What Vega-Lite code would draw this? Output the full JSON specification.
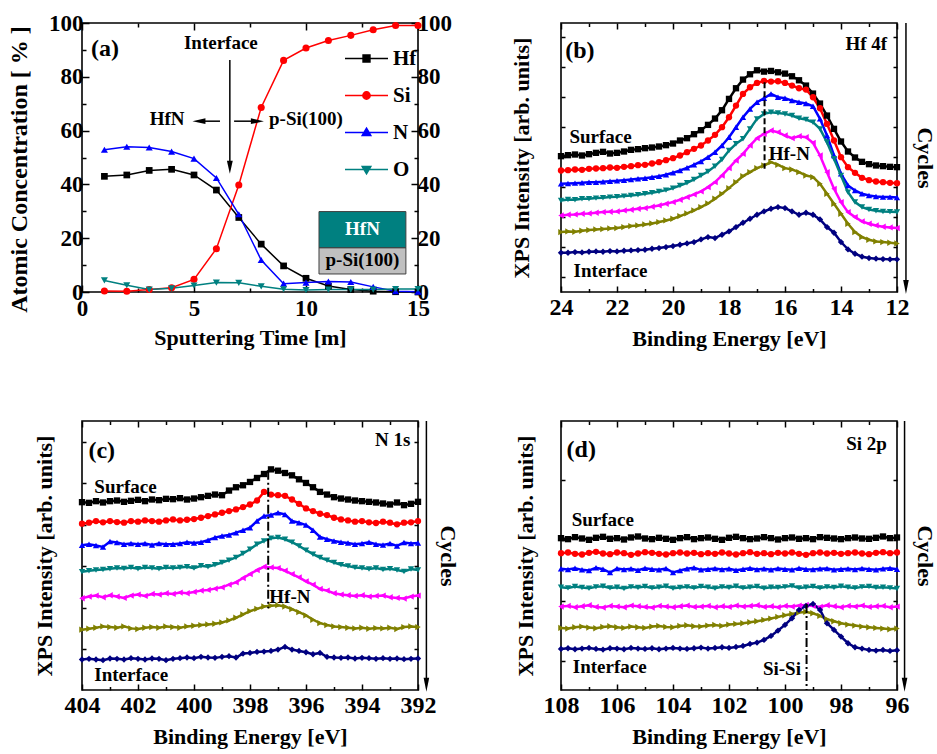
{
"$schema": "https://vega.github.io/schema/vega-lite/v6.json",
"padding": {"left": 6, "top": 11, "right": 0, "bottom": 5},
"background": "white",
"datasets": {
"conc": [
{"t":1,"el":"Hf","c":43.0},{"t":2,"el":"Hf","c":43.5},{"t":3,"el":"Hf","c":45.2},{"t":4,"el":"Hf","c":45.6},{"t":5,"el":"Hf","c":43.5},{"t":6,"el":"Hf","c":37.9},{"t":7,"el":"Hf","c":27.7},{"t":8,"el":"Hf","c":17.8},{"t":9,"el":"Hf","c":9.7},{"t":10,"el":"Hf","c":5.1},{"t":11,"el":"Hf","c":2.2},{"t":12,"el":"Hf","c":0.9},{"t":13,"el":"Hf","c":0.3},{"t":14,"el":"Hf","c":0.1},{"t":15,"el":"Hf","c":0.0},
{"t":1,"el":"Si","c":0.4},{"t":2,"el":"Si","c":0.3},{"t":3,"el":"Si","c":0.9},{"t":4,"el":"Si","c":1.6},{"t":5,"el":"Si","c":4.7},{"t":6,"el":"Si","c":16.1},{"t":7,"el":"Si","c":39.8},{"t":8,"el":"Si","c":68.6},{"t":9,"el":"Si","c":86.1},{"t":10,"el":"Si","c":90.7},{"t":11,"el":"Si","c":93.5},{"t":12,"el":"Si","c":95.4},{"t":13,"el":"Si","c":97.5},{"t":14,"el":"Si","c":99.1},{"t":15,"el":"Si","c":99.1},
{"t":1,"el":"N","c":52.9},{"t":2,"el":"N","c":54.0},{"t":3,"el":"N","c":53.7},{"t":4,"el":"N","c":52.2},{"t":5,"el":"N","c":49.6},{"t":6,"el":"N","c":42.4},{"t":7,"el":"N","c":28.9},{"t":8,"el":"N","c":11.9},{"t":9,"el":"N","c":3.1},{"t":10,"el":"N","c":3.5},{"t":11,"el":"N","c":3.9},{"t":12,"el":"N","c":3.7},{"t":13,"el":"N","c":1.9},{"t":14,"el":"N","c":0.3},{"t":15,"el":"N","c":0.1},
{"t":1,"el":"O","c":4.3},{"t":2,"el":"O","c":2.5},{"t":3,"el":"O","c":0.9},{"t":4,"el":"O","c":1.4},{"t":5,"el":"O","c":2.4},{"t":6,"el":"O","c":3.5},{"t":7,"el":"O","c":3.4},{"t":8,"el":"O","c":2.1},{"t":9,"el":"O","c":1.0},{"t":10,"el":"O","c":0.7},{"t":11,"el":"O","c":0.9},{"t":12,"el":"O","c":0.9},{"t":13,"el":"O","c":0.9},{"t":14,"el":"O","c":1.1},{"t":15,"el":"O","c":1.1}
],
"hf4f": [
{"c":1,"e":24,"v":408},{"c":1,"e":23.75,"v":411},{"c":1,"e":23.5,"v":413},{"c":1,"e":23.25,"v":410},{"c":1,"e":23,"v":414},{"c":1,"e":22.75,"v":418},{"c":1,"e":22.5,"v":421},{"c":1,"e":22.25,"v":416},{"c":1,"e":22,"v":418},{"c":1,"e":21.75,"v":422},{"c":1,"e":21.5,"v":427},{"c":1,"e":21.25,"v":429},{"c":1,"e":21,"v":432},{"c":1,"e":20.75,"v":434},{"c":1,"e":20.5,"v":437},{"c":1,"e":20.25,"v":441},{"c":1,"e":20,"v":446},{"c":1,"e":19.75,"v":455},{"c":1,"e":19.5,"v":462},{"c":1,"e":19.25,"v":474},{"c":1,"e":19,"v":486},{"c":1,"e":18.75,"v":502},{"c":1,"e":18.5,"v":521},{"c":1,"e":18.25,"v":546},{"c":1,"e":18,"v":580},{"c":1,"e":17.75,"v":612},{"c":1,"e":17.5,"v":638},{"c":1,"e":17.25,"v":654},{"c":1,"e":17,"v":666},{"c":1,"e":16.75,"v":662},{"c":1,"e":16.5,"v":664},{"c":1,"e":16.25,"v":660},{"c":1,"e":16,"v":656},{"c":1,"e":15.75,"v":648},{"c":1,"e":15.5,"v":636},{"c":1,"e":15.25,"v":620},{"c":1,"e":15,"v":596},{"c":1,"e":14.75,"v":566},{"c":1,"e":14.5,"v":530},{"c":1,"e":14.25,"v":490},{"c":1,"e":14,"v":452},{"c":1,"e":13.75,"v":422},{"c":1,"e":13.5,"v":404},{"c":1,"e":13.25,"v":391},{"c":1,"e":13,"v":384},{"c":1,"e":12.75,"v":380},{"c":1,"e":12.5,"v":378},{"c":1,"e":12.25,"v":376},{"c":1,"e":12,"v":375},
{"c":2,"e":24,"v":365},{"c":2,"e":23.75,"v":366},{"c":2,"e":23.5,"v":368},{"c":2,"e":23.25,"v":367},{"c":2,"e":23,"v":370},{"c":2,"e":22.75,"v":371},{"c":2,"e":22.5,"v":372},{"c":2,"e":22.25,"v":374},{"c":2,"e":22,"v":373},{"c":2,"e":21.75,"v":376},{"c":2,"e":21.5,"v":378},{"c":2,"e":21.25,"v":381},{"c":2,"e":21,"v":382},{"c":2,"e":20.75,"v":386},{"c":2,"e":20.5,"v":390},{"c":2,"e":20.25,"v":396},{"c":2,"e":20,"v":402},{"c":2,"e":19.75,"v":410},{"c":2,"e":19.5,"v":420},{"c":2,"e":19.25,"v":430},{"c":2,"e":19,"v":440},{"c":2,"e":18.75,"v":455},{"c":2,"e":18.5,"v":472},{"c":2,"e":18.25,"v":495},{"c":2,"e":18,"v":525},{"c":2,"e":17.75,"v":560},{"c":2,"e":17.5,"v":595},{"c":2,"e":17.25,"v":615},{"c":2,"e":17,"v":628},{"c":2,"e":16.75,"v":634},{"c":2,"e":16.5,"v":632},{"c":2,"e":16.25,"v":633},{"c":2,"e":16,"v":628},{"c":2,"e":15.75,"v":620},{"c":2,"e":15.5,"v":612},{"c":2,"e":15.25,"v":608},{"c":2,"e":15,"v":585},{"c":2,"e":14.75,"v":552},{"c":2,"e":14.5,"v":505},{"c":2,"e":14.25,"v":455},{"c":2,"e":14,"v":405},{"c":2,"e":13.75,"v":375},{"c":2,"e":13.5,"v":358},{"c":2,"e":13.25,"v":343},{"c":2,"e":13,"v":336},{"c":2,"e":12.75,"v":332},{"c":2,"e":12.5,"v":330},{"c":2,"e":12.25,"v":328},{"c":2,"e":12,"v":327},
{"c":3,"e":24,"v":325},{"c":3,"e":23.75,"v":326},{"c":3,"e":23.5,"v":327},{"c":3,"e":23.25,"v":328},{"c":3,"e":23,"v":330},{"c":3,"e":22.75,"v":330},{"c":3,"e":22.5,"v":331},{"c":3,"e":22.25,"v":333},{"c":3,"e":22,"v":334},{"c":3,"e":21.75,"v":336},{"c":3,"e":21.5,"v":338},{"c":3,"e":21.25,"v":340},{"c":3,"e":21,"v":342},{"c":3,"e":20.75,"v":345},{"c":3,"e":20.5,"v":348},{"c":3,"e":20.25,"v":352},{"c":3,"e":20,"v":358},{"c":3,"e":19.75,"v":365},{"c":3,"e":19.5,"v":373},{"c":3,"e":19.25,"v":382},{"c":3,"e":19,"v":392},{"c":3,"e":18.75,"v":405},{"c":3,"e":18.5,"v":420},{"c":3,"e":18.25,"v":440},{"c":3,"e":18,"v":465},{"c":3,"e":17.75,"v":495},{"c":3,"e":17.5,"v":525},{"c":3,"e":17.25,"v":550},{"c":3,"e":17,"v":570},{"c":3,"e":16.75,"v":582},{"c":3,"e":16.5,"v":595},{"c":3,"e":16.25,"v":585},{"c":3,"e":16,"v":582},{"c":3,"e":15.75,"v":575},{"c":3,"e":15.5,"v":570},{"c":3,"e":15.25,"v":566},{"c":3,"e":15,"v":558},{"c":3,"e":14.75,"v":520},{"c":3,"e":14.5,"v":470},{"c":3,"e":14.25,"v":410},{"c":3,"e":14,"v":355},{"c":3,"e":13.75,"v":320},{"c":3,"e":13.5,"v":305},{"c":3,"e":13.25,"v":295},{"c":3,"e":13,"v":290},{"c":3,"e":12.75,"v":287},{"c":3,"e":12.5,"v":285},{"c":3,"e":12.25,"v":285},{"c":3,"e":12,"v":284},
{"c":4,"e":24,"v":275},{"c":4,"e":23.75,"v":278},{"c":4,"e":23.5,"v":277},{"c":4,"e":23.25,"v":280},{"c":4,"e":23,"v":280},{"c":4,"e":22.75,"v":282},{"c":4,"e":22.5,"v":283},{"c":4,"e":22.25,"v":285},{"c":4,"e":22,"v":286},{"c":4,"e":21.75,"v":288},{"c":4,"e":21.5,"v":290},{"c":4,"e":21.25,"v":292},{"c":4,"e":21,"v":295},{"c":4,"e":20.75,"v":298},{"c":4,"e":20.5,"v":302},{"c":4,"e":20.25,"v":306},{"c":4,"e":20,"v":312},{"c":4,"e":19.75,"v":320},{"c":4,"e":19.5,"v":328},{"c":4,"e":19.25,"v":338},{"c":4,"e":19,"v":350},{"c":4,"e":18.75,"v":362},{"c":4,"e":18.5,"v":378},{"c":4,"e":18.25,"v":398},{"c":4,"e":18,"v":425},{"c":4,"e":17.75,"v":445},{"c":4,"e":17.5,"v":460},{"c":4,"e":17.25,"v":490},{"c":4,"e":17,"v":520},{"c":4,"e":16.75,"v":535},{"c":4,"e":16.5,"v":540},{"c":4,"e":16.25,"v":538},{"c":4,"e":16,"v":535},{"c":4,"e":15.75,"v":530},{"c":4,"e":15.5,"v":522},{"c":4,"e":15.25,"v":518},{"c":4,"e":15,"v":510},{"c":4,"e":14.75,"v":490},{"c":4,"e":14.5,"v":450},{"c":4,"e":14.25,"v":400},{"c":4,"e":14,"v":350},{"c":4,"e":13.75,"v":300},{"c":4,"e":13.5,"v":270},{"c":4,"e":13.25,"v":255},{"c":4,"e":13,"v":248},{"c":4,"e":12.75,"v":244},{"c":4,"e":12.5,"v":242},{"c":4,"e":12.25,"v":241},{"c":4,"e":12,"v":240},
{"c":5,"e":24,"v":230},{"c":5,"e":23.75,"v":232},{"c":5,"e":23.5,"v":233},{"c":5,"e":23.25,"v":235},{"c":5,"e":23,"v":236},{"c":5,"e":22.75,"v":238},{"c":5,"e":22.5,"v":240},{"c":5,"e":22.25,"v":241},{"c":5,"e":22,"v":242},{"c":5,"e":21.75,"v":245},{"c":5,"e":21.5,"v":247},{"c":5,"e":21.25,"v":250},{"c":5,"e":21,"v":252},{"c":5,"e":20.75,"v":256},{"c":5,"e":20.5,"v":260},{"c":5,"e":20.25,"v":265},{"c":5,"e":20,"v":270},{"c":5,"e":19.75,"v":277},{"c":5,"e":19.5,"v":285},{"c":5,"e":19.25,"v":293},{"c":5,"e":19,"v":302},{"c":5,"e":18.75,"v":315},{"c":5,"e":18.5,"v":330},{"c":5,"e":18.25,"v":350},{"c":5,"e":18,"v":372},{"c":5,"e":17.75,"v":395},{"c":5,"e":17.5,"v":415},{"c":5,"e":17.25,"v":440},{"c":5,"e":17,"v":462},{"c":5,"e":16.75,"v":475},{"c":5,"e":16.5,"v":485},{"c":5,"e":16.25,"v":480},{"c":5,"e":16,"v":470},{"c":5,"e":15.75,"v":462},{"c":5,"e":15.5,"v":468},{"c":5,"e":15.25,"v":465},{"c":5,"e":15,"v":448},{"c":5,"e":14.75,"v":410},{"c":5,"e":14.5,"v":360},{"c":5,"e":14.25,"v":310},{"c":5,"e":14,"v":270},{"c":5,"e":13.75,"v":240},{"c":5,"e":13.5,"v":225},{"c":5,"e":13.25,"v":212},{"c":5,"e":13,"v":205},{"c":5,"e":12.75,"v":200},{"c":5,"e":12.5,"v":196},{"c":5,"e":12.25,"v":194},{"c":5,"e":12,"v":192},
{"c":6,"e":24,"v":180},{"c":6,"e":23.75,"v":182},{"c":6,"e":23.5,"v":181},{"c":6,"e":23.25,"v":184},{"c":6,"e":23,"v":186},{"c":6,"e":22.75,"v":188},{"c":6,"e":22.5,"v":189},{"c":6,"e":22.25,"v":191},{"c":6,"e":22,"v":192},{"c":6,"e":21.75,"v":195},{"c":6,"e":21.5,"v":198},{"c":6,"e":21.25,"v":200},{"c":6,"e":21,"v":203},{"c":6,"e":20.75,"v":206},{"c":6,"e":20.5,"v":210},{"c":6,"e":20.25,"v":215},{"c":6,"e":20,"v":220},{"c":6,"e":19.75,"v":228},{"c":6,"e":19.5,"v":236},{"c":6,"e":19.25,"v":245},{"c":6,"e":19,"v":255},{"c":6,"e":18.75,"v":266},{"c":6,"e":18.5,"v":280},{"c":6,"e":18.25,"v":295},{"c":6,"e":18,"v":312},{"c":6,"e":17.75,"v":330},{"c":6,"e":17.5,"v":348},{"c":6,"e":17.25,"v":360},{"c":6,"e":17,"v":372},{"c":6,"e":16.75,"v":380},{"c":6,"e":16.5,"v":390},{"c":6,"e":16.25,"v":382},{"c":6,"e":16,"v":372},{"c":6,"e":15.75,"v":368},{"c":6,"e":15.5,"v":360},{"c":6,"e":15.25,"v":350},{"c":6,"e":15,"v":345},{"c":6,"e":14.75,"v":325},{"c":6,"e":14.5,"v":295},{"c":6,"e":14.25,"v":265},{"c":6,"e":14,"v":235},{"c":6,"e":13.75,"v":205},{"c":6,"e":13.5,"v":180},{"c":6,"e":13.25,"v":165},{"c":6,"e":13,"v":157},{"c":6,"e":12.75,"v":152},{"c":6,"e":12.5,"v":150},{"c":6,"e":12.25,"v":148},{"c":6,"e":12,"v":146},
{"c":7,"e":24,"v":118},{"c":7,"e":23.75,"v":118},{"c":7,"e":23.5,"v":120},{"c":7,"e":23.25,"v":119},{"c":7,"e":23,"v":121},{"c":7,"e":22.75,"v":122},{"c":7,"e":22.5,"v":121},{"c":7,"e":22.25,"v":123},{"c":7,"e":22,"v":122},{"c":7,"e":21.75,"v":124},{"c":7,"e":21.5,"v":125},{"c":7,"e":21.25,"v":126},{"c":7,"e":21,"v":127},{"c":7,"e":20.75,"v":130},{"c":7,"e":20.5,"v":132},{"c":7,"e":20.25,"v":135},{"c":7,"e":20,"v":138},{"c":7,"e":19.75,"v":142},{"c":7,"e":19.5,"v":146},{"c":7,"e":19.25,"v":150},{"c":7,"e":19,"v":158},{"c":7,"e":18.75,"v":165},{"c":7,"e":18.5,"v":162},{"c":7,"e":18.25,"v":172},{"c":7,"e":18,"v":182},{"c":7,"e":17.75,"v":195},{"c":7,"e":17.5,"v":208},{"c":7,"e":17.25,"v":220},{"c":7,"e":17,"v":232},{"c":7,"e":16.75,"v":242},{"c":7,"e":16.5,"v":250},{"c":7,"e":16.25,"v":255},{"c":7,"e":16,"v":252},{"c":7,"e":15.75,"v":242},{"c":7,"e":15.5,"v":232},{"c":7,"e":15.25,"v":238},{"c":7,"e":15,"v":232},{"c":7,"e":14.75,"v":218},{"c":7,"e":14.5,"v":195},{"c":7,"e":14.25,"v":178},{"c":7,"e":14,"v":150},{"c":7,"e":13.75,"v":128},{"c":7,"e":13.5,"v":115},{"c":7,"e":13.25,"v":106},{"c":7,"e":13,"v":102},{"c":7,"e":12.75,"v":100},{"c":7,"e":12.5,"v":99},{"c":7,"e":12.25,"v":98},{"c":7,"e":12,"v":98}
],
"n1s": [
{"c":1,"e":404,"v":567},{"c":1,"e":403.75,"v":565},{"c":1,"e":403.5,"v":570},{"c":1,"e":403.25,"v":566},{"c":1,"e":403,"v":570},{"c":1,"e":402.75,"v":572},{"c":1,"e":402.5,"v":568},{"c":1,"e":402.25,"v":571},{"c":1,"e":402,"v":574},{"c":1,"e":401.75,"v":570},{"c":1,"e":401.5,"v":575},{"c":1,"e":401.25,"v":573},{"c":1,"e":401,"v":577},{"c":1,"e":400.75,"v":576},{"c":1,"e":400.5,"v":579},{"c":1,"e":400.25,"v":575},{"c":1,"e":400,"v":578},{"c":1,"e":399.75,"v":582},{"c":1,"e":399.5,"v":586},{"c":1,"e":399.25,"v":590},{"c":1,"e":399,"v":588},{"c":1,"e":398.75,"v":602},{"c":1,"e":398.5,"v":612},{"c":1,"e":398.25,"v":618},{"c":1,"e":398,"v":628},{"c":1,"e":397.75,"v":640},{"c":1,"e":397.5,"v":652},{"c":1,"e":397.25,"v":666},{"c":1,"e":397,"v":662},{"c":1,"e":396.75,"v":655},{"c":1,"e":396.5,"v":648},{"c":1,"e":396.25,"v":636},{"c":1,"e":396,"v":625},{"c":1,"e":395.75,"v":612},{"c":1,"e":395.5,"v":598},{"c":1,"e":395.25,"v":590},{"c":1,"e":395,"v":582},{"c":1,"e":394.75,"v":578},{"c":1,"e":394.5,"v":575},{"c":1,"e":394.25,"v":572},{"c":1,"e":394,"v":570},{"c":1,"e":393.75,"v":568},{"c":1,"e":393.5,"v":566},{"c":1,"e":393.25,"v":563},{"c":1,"e":393,"v":560},{"c":1,"e":392.75,"v":566},{"c":1,"e":392.5,"v":558},{"c":1,"e":392.25,"v":562},{"c":1,"e":392,"v":568},
{"c":2,"e":404,"v":502},{"c":2,"e":403.75,"v":505},{"c":2,"e":403.5,"v":510},{"c":2,"e":403.25,"v":506},{"c":2,"e":403,"v":510},{"c":2,"e":402.75,"v":507},{"c":2,"e":402.5,"v":505},{"c":2,"e":402.25,"v":510},{"c":2,"e":402,"v":508},{"c":2,"e":401.75,"v":512},{"c":2,"e":401.5,"v":510},{"c":2,"e":401.25,"v":508},{"c":2,"e":401,"v":512},{"c":2,"e":400.75,"v":515},{"c":2,"e":400.5,"v":512},{"c":2,"e":400.25,"v":514},{"c":2,"e":400,"v":516},{"c":2,"e":399.75,"v":520},{"c":2,"e":399.5,"v":525},{"c":2,"e":399.25,"v":530},{"c":2,"e":399,"v":535},{"c":2,"e":398.75,"v":540},{"c":2,"e":398.5,"v":545},{"c":2,"e":398.25,"v":552},{"c":2,"e":398,"v":560},{"c":2,"e":397.75,"v":572},{"c":2,"e":397.5,"v":598},{"c":2,"e":397.25,"v":590},{"c":2,"e":397,"v":588},{"c":2,"e":396.75,"v":586},{"c":2,"e":396.5,"v":575},{"c":2,"e":396.25,"v":562},{"c":2,"e":396,"v":548},{"c":2,"e":395.75,"v":540},{"c":2,"e":395.5,"v":532},{"c":2,"e":395.25,"v":528},{"c":2,"e":395,"v":520},{"c":2,"e":394.75,"v":515},{"c":2,"e":394.5,"v":512},{"c":2,"e":394.25,"v":508},{"c":2,"e":394,"v":510},{"c":2,"e":393.75,"v":506},{"c":2,"e":393.5,"v":504},{"c":2,"e":393.25,"v":508},{"c":2,"e":393,"v":505},{"c":2,"e":392.75,"v":500},{"c":2,"e":392.5,"v":505},{"c":2,"e":392.25,"v":506},{"c":2,"e":392,"v":510},
{"c":3,"e":404,"v":437},{"c":3,"e":403.75,"v":440},{"c":3,"e":403.5,"v":436},{"c":3,"e":403.25,"v":432},{"c":3,"e":403,"v":448},{"c":3,"e":402.75,"v":445},{"c":3,"e":402.5,"v":440},{"c":3,"e":402.25,"v":442},{"c":3,"e":402,"v":440},{"c":3,"e":401.75,"v":442},{"c":3,"e":401.5,"v":438},{"c":3,"e":401.25,"v":442},{"c":3,"e":401,"v":440},{"c":3,"e":400.75,"v":440},{"c":3,"e":400.5,"v":442},{"c":3,"e":400.25,"v":446},{"c":3,"e":400,"v":444},{"c":3,"e":399.75,"v":446},{"c":3,"e":399.5,"v":452},{"c":3,"e":399.25,"v":460},{"c":3,"e":399,"v":465},{"c":3,"e":398.75,"v":468},{"c":3,"e":398.5,"v":475},{"c":3,"e":398.25,"v":482},{"c":3,"e":398,"v":490},{"c":3,"e":397.75,"v":510},{"c":3,"e":397.5,"v":525},{"c":3,"e":397.25,"v":528},{"c":3,"e":397,"v":535},{"c":3,"e":396.75,"v":530},{"c":3,"e":396.5,"v":510},{"c":3,"e":396.25,"v":505},{"c":3,"e":396,"v":498},{"c":3,"e":395.75,"v":482},{"c":3,"e":395.5,"v":462},{"c":3,"e":395.25,"v":455},{"c":3,"e":395,"v":450},{"c":3,"e":394.75,"v":446},{"c":3,"e":394.5,"v":444},{"c":3,"e":394.25,"v":440},{"c":3,"e":394,"v":442},{"c":3,"e":393.75,"v":446},{"c":3,"e":393.5,"v":440},{"c":3,"e":393.25,"v":438},{"c":3,"e":393,"v":442},{"c":3,"e":392.75,"v":435},{"c":3,"e":392.5,"v":445},{"c":3,"e":392.25,"v":442},{"c":3,"e":392,"v":444},
{"c":4,"e":404,"v":357},{"c":4,"e":403.75,"v":360},{"c":4,"e":403.5,"v":362},{"c":4,"e":403.25,"v":364},{"c":4,"e":403,"v":366},{"c":4,"e":402.75,"v":368},{"c":4,"e":402.5,"v":367},{"c":4,"e":402.25,"v":370},{"c":4,"e":402,"v":366},{"c":4,"e":401.75,"v":370},{"c":4,"e":401.5,"v":368},{"c":4,"e":401.25,"v":366},{"c":4,"e":401,"v":370},{"c":4,"e":400.75,"v":368},{"c":4,"e":400.5,"v":370},{"c":4,"e":400.25,"v":372},{"c":4,"e":400,"v":368},{"c":4,"e":399.75,"v":375},{"c":4,"e":399.5,"v":372},{"c":4,"e":399.25,"v":378},{"c":4,"e":399,"v":385},{"c":4,"e":398.75,"v":392},{"c":4,"e":398.5,"v":400},{"c":4,"e":398.25,"v":412},{"c":4,"e":398,"v":425},{"c":4,"e":397.75,"v":440},{"c":4,"e":397.5,"v":450},{"c":4,"e":397.25,"v":458},{"c":4,"e":397,"v":460},{"c":4,"e":396.75,"v":455},{"c":4,"e":396.5,"v":446},{"c":4,"e":396.25,"v":435},{"c":4,"e":396,"v":422},{"c":4,"e":395.75,"v":410},{"c":4,"e":395.5,"v":400},{"c":4,"e":395.25,"v":392},{"c":4,"e":395,"v":385},{"c":4,"e":394.75,"v":378},{"c":4,"e":394.5,"v":374},{"c":4,"e":394.25,"v":370},{"c":4,"e":394,"v":368},{"c":4,"e":393.75,"v":365},{"c":4,"e":393.5,"v":368},{"c":4,"e":393.25,"v":364},{"c":4,"e":393,"v":366},{"c":4,"e":392.75,"v":362},{"c":4,"e":392.5,"v":358},{"c":4,"e":392.25,"v":365},{"c":4,"e":392,"v":362},
{"c":5,"e":404,"v":277},{"c":5,"e":403.75,"v":282},{"c":5,"e":403.5,"v":285},{"c":5,"e":403.25,"v":280},{"c":5,"e":403,"v":286},{"c":5,"e":402.75,"v":282},{"c":5,"e":402.5,"v":278},{"c":5,"e":402.25,"v":285},{"c":5,"e":402,"v":288},{"c":5,"e":401.75,"v":284},{"c":5,"e":401.5,"v":290},{"c":5,"e":401.25,"v":288},{"c":5,"e":401,"v":292},{"c":5,"e":400.75,"v":290},{"c":5,"e":400.5,"v":294},{"c":5,"e":400.25,"v":292},{"c":5,"e":400,"v":296},{"c":5,"e":399.75,"v":300},{"c":5,"e":399.5,"v":302},{"c":5,"e":399.25,"v":306},{"c":5,"e":399,"v":310},{"c":5,"e":398.75,"v":318},{"c":5,"e":398.5,"v":325},{"c":5,"e":398.25,"v":338},{"c":5,"e":398,"v":350},{"c":5,"e":397.75,"v":362},{"c":5,"e":397.5,"v":372},{"c":5,"e":397.25,"v":370},{"c":5,"e":397,"v":368},{"c":5,"e":396.75,"v":360},{"c":5,"e":396.5,"v":350},{"c":5,"e":396.25,"v":340},{"c":5,"e":396,"v":328},{"c":5,"e":395.75,"v":318},{"c":5,"e":395.5,"v":305},{"c":5,"e":395.25,"v":300},{"c":5,"e":395,"v":292},{"c":5,"e":394.75,"v":288},{"c":5,"e":394.5,"v":286},{"c":5,"e":394.25,"v":284},{"c":5,"e":394,"v":286},{"c":5,"e":393.75,"v":282},{"c":5,"e":393.5,"v":284},{"c":5,"e":393.25,"v":285},{"c":5,"e":393,"v":280},{"c":5,"e":392.75,"v":278},{"c":5,"e":392.5,"v":276},{"c":5,"e":392.25,"v":282},{"c":5,"e":392,"v":285},
{"c":6,"e":404,"v":182},{"c":6,"e":403.75,"v":185},{"c":6,"e":403.5,"v":188},{"c":6,"e":403.25,"v":192},{"c":6,"e":403,"v":190},{"c":6,"e":402.75,"v":188},{"c":6,"e":402.5,"v":192},{"c":6,"e":402.25,"v":186},{"c":6,"e":402,"v":184},{"c":6,"e":401.75,"v":188},{"c":6,"e":401.5,"v":190},{"c":6,"e":401.25,"v":188},{"c":6,"e":401,"v":192},{"c":6,"e":400.75,"v":190},{"c":6,"e":400.5,"v":188},{"c":6,"e":400.25,"v":192},{"c":6,"e":400,"v":194},{"c":6,"e":399.75,"v":196},{"c":6,"e":399.5,"v":198},{"c":6,"e":399.25,"v":200},{"c":6,"e":399,"v":204},{"c":6,"e":398.75,"v":210},{"c":6,"e":398.5,"v":218},{"c":6,"e":398.25,"v":228},{"c":6,"e":398,"v":238},{"c":6,"e":397.75,"v":245},{"c":6,"e":397.5,"v":252},{"c":6,"e":397.25,"v":254},{"c":6,"e":397,"v":256},{"c":6,"e":396.75,"v":252},{"c":6,"e":396.5,"v":244},{"c":6,"e":396.25,"v":235},{"c":6,"e":396,"v":225},{"c":6,"e":395.75,"v":212},{"c":6,"e":395.5,"v":202},{"c":6,"e":395.25,"v":196},{"c":6,"e":395,"v":192},{"c":6,"e":394.75,"v":190},{"c":6,"e":394.5,"v":188},{"c":6,"e":394.25,"v":186},{"c":6,"e":394,"v":188},{"c":6,"e":393.75,"v":185},{"c":6,"e":393.5,"v":187},{"c":6,"e":393.25,"v":186},{"c":6,"e":393,"v":188},{"c":6,"e":392.75,"v":184},{"c":6,"e":392.5,"v":190},{"c":6,"e":392.25,"v":192},{"c":6,"e":392,"v":190},
{"c":7,"e":404,"v":92},{"c":7,"e":403.75,"v":94},{"c":7,"e":403.5,"v":92},{"c":7,"e":403.25,"v":90},{"c":7,"e":403,"v":95},{"c":7,"e":402.75,"v":94},{"c":7,"e":402.5,"v":92},{"c":7,"e":402.25,"v":96},{"c":7,"e":402,"v":94},{"c":7,"e":401.75,"v":92},{"c":7,"e":401.5,"v":95},{"c":7,"e":401.25,"v":94},{"c":7,"e":401,"v":90},{"c":7,"e":400.75,"v":94},{"c":7,"e":400.5,"v":96},{"c":7,"e":400.25,"v":98},{"c":7,"e":400,"v":96},{"c":7,"e":399.75,"v":100},{"c":7,"e":399.5,"v":98},{"c":7,"e":399.25,"v":97},{"c":7,"e":399,"v":100},{"c":7,"e":398.75,"v":102},{"c":7,"e":398.5,"v":98},{"c":7,"e":398.25,"v":110},{"c":7,"e":398,"v":112},{"c":7,"e":397.75,"v":115},{"c":7,"e":397.5,"v":116},{"c":7,"e":397.25,"v":118},{"c":7,"e":397,"v":122},{"c":7,"e":396.75,"v":130},{"c":7,"e":396.5,"v":122},{"c":7,"e":396.25,"v":118},{"c":7,"e":396,"v":114},{"c":7,"e":395.75,"v":108},{"c":7,"e":395.5,"v":112},{"c":7,"e":395.25,"v":100},{"c":7,"e":395,"v":98},{"c":7,"e":394.75,"v":97},{"c":7,"e":394.5,"v":98},{"c":7,"e":394.25,"v":95},{"c":7,"e":394,"v":97},{"c":7,"e":393.75,"v":96},{"c":7,"e":393.5,"v":94},{"c":7,"e":393.25,"v":96},{"c":7,"e":393,"v":94},{"c":7,"e":392.75,"v":95},{"c":7,"e":392.5,"v":93},{"c":7,"e":392.25,"v":94},{"c":7,"e":392,"v":95}
],
"si2p": [
{"c":1,"e":108,"v":455},{"c":1,"e":107.75,"v":452},{"c":1,"e":107.5,"v":458},{"c":1,"e":107.25,"v":454},{"c":1,"e":107,"v":450},{"c":1,"e":106.75,"v":456},{"c":1,"e":106.5,"v":459},{"c":1,"e":106.25,"v":453},{"c":1,"e":106,"v":455},{"c":1,"e":105.75,"v":451},{"c":1,"e":105.5,"v":457},{"c":1,"e":105.25,"v":460},{"c":1,"e":105,"v":454},{"c":1,"e":104.75,"v":452},{"c":1,"e":104.5,"v":456},{"c":1,"e":104.25,"v":453},{"c":1,"e":104,"v":450},{"c":1,"e":103.75,"v":455},{"c":1,"e":103.5,"v":458},{"c":1,"e":103.25,"v":452},{"c":1,"e":103,"v":455},{"c":1,"e":102.75,"v":457},{"c":1,"e":102.5,"v":453},{"c":1,"e":102.25,"v":450},{"c":1,"e":102,"v":456},{"c":1,"e":101.75,"v":459},{"c":1,"e":101.5,"v":455},{"c":1,"e":101.25,"v":452},{"c":1,"e":101,"v":454},{"c":1,"e":100.75,"v":458},{"c":1,"e":100.5,"v":455},{"c":1,"e":100.25,"v":451},{"c":1,"e":100,"v":455},{"c":1,"e":99.75,"v":457},{"c":1,"e":99.5,"v":453},{"c":1,"e":99.25,"v":455},{"c":1,"e":99,"v":452},{"c":1,"e":98.75,"v":458},{"c":1,"e":98.5,"v":456},{"c":1,"e":98.25,"v":454},{"c":1,"e":98,"v":452},{"c":1,"e":97.75,"v":455},{"c":1,"e":97.5,"v":457},{"c":1,"e":97.25,"v":454},{"c":1,"e":97,"v":453},{"c":1,"e":96.75,"v":456},{"c":1,"e":96.5,"v":460},{"c":1,"e":96.25,"v":455},{"c":1,"e":96,"v":457},
{"c":2,"e":108,"v":410},{"c":2,"e":107.75,"v":412},{"c":2,"e":107.5,"v":408},{"c":2,"e":107.25,"v":406},{"c":2,"e":107,"v":411},{"c":2,"e":106.75,"v":414},{"c":2,"e":106.5,"v":409},{"c":2,"e":106.25,"v":407},{"c":2,"e":106,"v":412},{"c":2,"e":105.75,"v":410},{"c":2,"e":105.5,"v":405},{"c":2,"e":105.25,"v":409},{"c":2,"e":105,"v":413},{"c":2,"e":104.75,"v":411},{"c":2,"e":104.5,"v":408},{"c":2,"e":104.25,"v":406},{"c":2,"e":104,"v":410},{"c":2,"e":103.75,"v":412},{"c":2,"e":103.5,"v":409},{"c":2,"e":103.25,"v":411},{"c":2,"e":103,"v":407},{"c":2,"e":102.75,"v":410},{"c":2,"e":102.5,"v":408},{"c":2,"e":102.25,"v":412},{"c":2,"e":102,"v":409},{"c":2,"e":101.75,"v":406},{"c":2,"e":101.5,"v":410},{"c":2,"e":101.25,"v":413},{"c":2,"e":101,"v":408},{"c":2,"e":100.75,"v":410},{"c":2,"e":100.5,"v":407},{"c":2,"e":100.25,"v":411},{"c":2,"e":100,"v":409},{"c":2,"e":99.75,"v":412},{"c":2,"e":99.5,"v":408},{"c":2,"e":99.25,"v":405},{"c":2,"e":99,"v":410},{"c":2,"e":98.75,"v":412},{"c":2,"e":98.5,"v":409},{"c":2,"e":98.25,"v":411},{"c":2,"e":98,"v":408},{"c":2,"e":97.75,"v":410},{"c":2,"e":97.5,"v":412},{"c":2,"e":97.25,"v":409},{"c":2,"e":97,"v":407},{"c":2,"e":96.75,"v":411},{"c":2,"e":96.5,"v":413},{"c":2,"e":96.25,"v":410},{"c":2,"e":96,"v":412},
{"c":3,"e":108,"v":363},{"c":3,"e":107.75,"v":361},{"c":3,"e":107.5,"v":365},{"c":3,"e":107.25,"v":360},{"c":3,"e":107,"v":358},{"c":3,"e":106.75,"v":366},{"c":3,"e":106.5,"v":362},{"c":3,"e":106.25,"v":352},{"c":3,"e":106,"v":364},{"c":3,"e":105.75,"v":361},{"c":3,"e":105.5,"v":363},{"c":3,"e":105.25,"v":359},{"c":3,"e":105,"v":365},{"c":3,"e":104.75,"v":362},{"c":3,"e":104.5,"v":360},{"c":3,"e":104.25,"v":364},{"c":3,"e":104,"v":352},{"c":3,"e":103.75,"v":358},{"c":3,"e":103.5,"v":363},{"c":3,"e":103.25,"v":366},{"c":3,"e":103,"v":360},{"c":3,"e":102.75,"v":362},{"c":3,"e":102.5,"v":364},{"c":3,"e":102.25,"v":361},{"c":3,"e":102,"v":363},{"c":3,"e":101.75,"v":359},{"c":3,"e":101.5,"v":362},{"c":3,"e":101.25,"v":365},{"c":3,"e":101,"v":361},{"c":3,"e":100.75,"v":363},{"c":3,"e":100.5,"v":360},{"c":3,"e":100.25,"v":364},{"c":3,"e":100,"v":362},{"c":3,"e":99.75,"v":360},{"c":3,"e":99.5,"v":365},{"c":3,"e":99.25,"v":362},{"c":3,"e":99,"v":361},{"c":3,"e":98.75,"v":363},{"c":3,"e":98.5,"v":364},{"c":3,"e":98.25,"v":360},{"c":3,"e":98,"v":362},{"c":3,"e":97.75,"v":363},{"c":3,"e":97.5,"v":361},{"c":3,"e":97.25,"v":364},{"c":3,"e":97,"v":362},{"c":3,"e":96.75,"v":360},{"c":3,"e":96.5,"v":363},{"c":3,"e":96.25,"v":365},{"c":3,"e":96,"v":362},
{"c":4,"e":108,"v":308},{"c":4,"e":107.75,"v":306},{"c":4,"e":107.5,"v":310},{"c":4,"e":107.25,"v":307},{"c":4,"e":107,"v":305},{"c":4,"e":106.75,"v":309},{"c":4,"e":106.5,"v":311},{"c":4,"e":106.25,"v":306},{"c":4,"e":106,"v":308},{"c":4,"e":105.75,"v":304},{"c":4,"e":105.5,"v":309},{"c":4,"e":105.25,"v":307},{"c":4,"e":105,"v":310},{"c":4,"e":104.75,"v":306},{"c":4,"e":104.5,"v":308},{"c":4,"e":104.25,"v":311},{"c":4,"e":104,"v":305},{"c":4,"e":103.75,"v":307},{"c":4,"e":103.5,"v":309},{"c":4,"e":103.25,"v":306},{"c":4,"e":103,"v":310},{"c":4,"e":102.75,"v":308},{"c":4,"e":102.5,"v":305},{"c":4,"e":102.25,"v":309},{"c":4,"e":102,"v":307},{"c":4,"e":101.75,"v":311},{"c":4,"e":101.5,"v":306},{"c":4,"e":101.25,"v":308},{"c":4,"e":101,"v":310},{"c":4,"e":100.75,"v":305},{"c":4,"e":100.5,"v":308},{"c":4,"e":100.25,"v":307},{"c":4,"e":100,"v":309},{"c":4,"e":99.75,"v":312},{"c":4,"e":99.5,"v":306},{"c":4,"e":99.25,"v":308},{"c":4,"e":99,"v":310},{"c":4,"e":98.75,"v":306},{"c":4,"e":98.5,"v":309},{"c":4,"e":98.25,"v":307},{"c":4,"e":98,"v":311},{"c":4,"e":97.75,"v":308},{"c":4,"e":97.5,"v":306},{"c":4,"e":97.25,"v":309},{"c":4,"e":97,"v":310},{"c":4,"e":96.75,"v":307},{"c":4,"e":96.5,"v":308},{"c":4,"e":96.25,"v":306},{"c":4,"e":96,"v":304},
{"c":5,"e":108,"v":250},{"c":5,"e":107.75,"v":252},{"c":5,"e":107.5,"v":248},{"c":5,"e":107.25,"v":251},{"c":5,"e":107,"v":254},{"c":5,"e":106.75,"v":249},{"c":5,"e":106.5,"v":247},{"c":5,"e":106.25,"v":252},{"c":5,"e":106,"v":250},{"c":5,"e":105.75,"v":248},{"c":5,"e":105.5,"v":253},{"c":5,"e":105.25,"v":251},{"c":5,"e":105,"v":249},{"c":5,"e":104.75,"v":247},{"c":5,"e":104.5,"v":252},{"c":5,"e":104.25,"v":250},{"c":5,"e":104,"v":248},{"c":5,"e":103.75,"v":251},{"c":5,"e":103.5,"v":253},{"c":5,"e":103.25,"v":249},{"c":5,"e":103,"v":250},{"c":5,"e":102.75,"v":252},{"c":5,"e":102.5,"v":248},{"c":5,"e":102.25,"v":251},{"c":5,"e":102,"v":249},{"c":5,"e":101.75,"v":253},{"c":5,"e":101.5,"v":250},{"c":5,"e":101.25,"v":252},{"c":5,"e":101,"v":254},{"c":5,"e":100.75,"v":249},{"c":5,"e":100.5,"v":251},{"c":5,"e":100.25,"v":248},{"c":5,"e":100,"v":252},{"c":5,"e":99.75,"v":250},{"c":5,"e":99.5,"v":253},{"c":5,"e":99.25,"v":255},{"c":5,"e":99,"v":252},{"c":5,"e":98.75,"v":249},{"c":5,"e":98.5,"v":254},{"c":5,"e":98.25,"v":251},{"c":5,"e":98,"v":248},{"c":5,"e":97.75,"v":252},{"c":5,"e":97.5,"v":250},{"c":5,"e":97.25,"v":253},{"c":5,"e":97,"v":249},{"c":5,"e":96.75,"v":251},{"c":5,"e":96.5,"v":252},{"c":5,"e":96.25,"v":248},{"c":5,"e":96,"v":250},
{"c":6,"e":108,"v":186},{"c":6,"e":107.75,"v":184},{"c":6,"e":107.5,"v":188},{"c":6,"e":107.25,"v":190},{"c":6,"e":107,"v":187},{"c":6,"e":106.75,"v":185},{"c":6,"e":106.5,"v":189},{"c":6,"e":106.25,"v":191},{"c":6,"e":106,"v":188},{"c":6,"e":105.75,"v":186},{"c":6,"e":105.5,"v":190},{"c":6,"e":105.25,"v":188},{"c":6,"e":105,"v":186},{"c":6,"e":104.75,"v":190},{"c":6,"e":104.5,"v":192},{"c":6,"e":104.25,"v":189},{"c":6,"e":104,"v":188},{"c":6,"e":103.75,"v":192},{"c":6,"e":103.5,"v":194},{"c":6,"e":103.25,"v":191},{"c":6,"e":103,"v":190},{"c":6,"e":102.75,"v":193},{"c":6,"e":102.5,"v":195},{"c":6,"e":102.25,"v":192},{"c":6,"e":102,"v":196},{"c":6,"e":101.75,"v":198},{"c":6,"e":101.5,"v":200},{"c":6,"e":101.25,"v":203},{"c":6,"e":101,"v":206},{"c":6,"e":100.75,"v":210},{"c":6,"e":100.5,"v":214},{"c":6,"e":100.25,"v":219},{"c":6,"e":100,"v":224},{"c":6,"e":99.75,"v":228},{"c":6,"e":99.5,"v":232},{"c":6,"e":99.25,"v":234},{"c":6,"e":99,"v":230},{"c":6,"e":98.75,"v":222},{"c":6,"e":98.5,"v":212},{"c":6,"e":98.25,"v":206},{"c":6,"e":98,"v":200},{"c":6,"e":97.75,"v":196},{"c":6,"e":97.5,"v":193},{"c":6,"e":97.25,"v":190},{"c":6,"e":97,"v":188},{"c":6,"e":96.75,"v":186},{"c":6,"e":96.5,"v":184},{"c":6,"e":96.25,"v":182},{"c":6,"e":96,"v":184},
{"c":7,"e":108,"v":123},{"c":7,"e":107.75,"v":125},{"c":7,"e":107.5,"v":122},{"c":7,"e":107.25,"v":124},{"c":7,"e":107,"v":126},{"c":7,"e":106.75,"v":123},{"c":7,"e":106.5,"v":121},{"c":7,"e":106.25,"v":125},{"c":7,"e":106,"v":124},{"c":7,"e":105.75,"v":122},{"c":7,"e":105.5,"v":126},{"c":7,"e":105.25,"v":124},{"c":7,"e":105,"v":123},{"c":7,"e":104.75,"v":125},{"c":7,"e":104.5,"v":122},{"c":7,"e":104.25,"v":124},{"c":7,"e":104,"v":126},{"c":7,"e":103.75,"v":124},{"c":7,"e":103.5,"v":123},{"c":7,"e":103.25,"v":125},{"c":7,"e":103,"v":127},{"c":7,"e":102.75,"v":124},{"c":7,"e":102.5,"v":126},{"c":7,"e":102.25,"v":128},{"c":7,"e":102,"v":126},{"c":7,"e":101.75,"v":129},{"c":7,"e":101.5,"v":132},{"c":7,"e":101.25,"v":138},{"c":7,"e":101,"v":142},{"c":7,"e":100.75,"v":150},{"c":7,"e":100.5,"v":162},{"c":7,"e":100.25,"v":178},{"c":7,"e":100,"v":195},{"c":7,"e":99.75,"v":215},{"c":7,"e":99.5,"v":240},{"c":7,"e":99.25,"v":252},{"c":7,"e":99,"v":258},{"c":7,"e":98.75,"v":240},{"c":7,"e":98.5,"v":200},{"c":7,"e":98.25,"v":180},{"c":7,"e":98,"v":160},{"c":7,"e":97.75,"v":140},{"c":7,"e":97.5,"v":128},{"c":7,"e":97.25,"v":124},{"c":7,"e":97,"v":120},{"c":7,"e":96.75,"v":118},{"c":7,"e":96.5,"v":120},{"c":7,"e":96.25,"v":117},{"c":7,"e":96,"v":119}
]
},
"columns": 2,
"spacing": {"row": 129, "column": 143},
"bounds": "flush",
"resolve": {"scale": {"color": "independent", "shape": "independent"}, "legend": {"color": "independent", "shape": "independent"}},
"concat": [
{
"width": 336, "height": 269,
"resolve": {"axis": {"x": "independent", "y": "independent"}},
"layer": [
{"data": {"name": "conc"}, "mark": {"type": "line", "strokeWidth": 1.5},
 "encoding": {
  "x": {"field": "t", "type": "quantitative", "scale": {"domain": [0, 15], "nice": false},
        "axis": {"orient": "bottom", "values": [0, 2.5, 5, 7.5, 10, 12.5, 15], "labelExpr": "datum.value % 5 === 0 ? datum.label : ''", "tickSize": {"condition": {"test": "datum.value % 5 === 0", "value": -7}, "value": -4}, "labelPadding": 12, "labelFontSize": 23, "title": "Sputtering Time [m]", "titleFontSize": 22, "titlePadding": 4}},
  "y": {"field": "c", "type": "quantitative", "scale": {"domain": [0, 100], "nice": false},
        "axis": {"orient": "left", "values": [0, 10, 20, 30, 40, 50, 60, 70, 80, 90, 100], "labelExpr": "datum.value % 20 === 0 ? datum.label : ''", "tickSize": {"condition": {"test": "datum.value % 20 === 0", "value": -7}, "value": -4}, "labelPadding": 6, "labelFontSize": 23, "title": "Atomic Concentration [ % ]", "titleFontSize": 24, "titlePadding": 17, "titleY": 146}},
  "color": {"field": "el", "type": "nominal", "scale": {"domain": ["Hf", "Si", "N", "O"], "range": ["#000000", "#ff0000", "#0000ff", "#008080"]},
        "legend": {"orient": "none", "legendX": 262, "legendY": 13, "title": null, "padding": 0, "labelFont": "Liberation Serif", "labelFontWeight": "bold", "labelFontSize": 21, "labelColor": "#000", "labelOffset": 4, "symbolSize": 1849, "symbolStrokeWidth": 1.5, "rowPadding": 4,
          "encode": {"symbols": {"update": {
            "shape": {"signal": "datum.value === 'Hf' ? 'M-1,0H1M-0.16,-0.16H0.16V0.16H-0.16Z' : datum.value === 'Si' ? 'M-1,0H1M0.17,0A0.17,0.17 0 1 1 -0.17,0A0.17,0.17 0 1 1 0.17,0Z' : datum.value === 'N' ? 'M-1,0H1M0,-0.2L0.2,0.14L-0.2,0.14Z' : 'M-1,0H1M0,0.2L0.2,-0.14L-0.2,-0.14Z'"},
            "fill": {"signal": "datum.value === 'Hf' ? '#000000' : datum.value === 'Si' ? '#ff0000' : datum.value === 'N' ? '#0000ff' : '#008080'"},
            "stroke": {"signal": "datum.value === 'Hf' ? '#000000' : datum.value === 'Si' ? '#ff0000' : datum.value === 'N' ? '#0000ff' : '#008080'"},
            "opacity": {"value": 1}, "fillOpacity": {"value": 1}, "strokeOpacity": {"value": 1}}}}}}
 }},
{"data": {"name": "conc"}, "transform": [{"filter": "datum.el === 'Hf'"}], "mark": {"type": "point", "shape": "square", "filled": true, "size": 45, "opacity": 1},
 "encoding": {
  "x": {"field": "t", "type": "quantitative", "axis": {"orient": "top", "values": [0, 2.5, 5, 7.5, 10, 12.5, 15], "labels": false, "tickSize": {"condition": {"test": "datum.value % 5 === 0", "value": -7}, "value": -4}, "title": null}},
  "y": {"field": "c", "type": "quantitative", "axis": {"orient": "right", "values": [0, 10, 20, 30, 40, 50, 60, 70, 80, 90, 100], "labelExpr": "datum.value % 20 === 0 ? datum.label : ''", "tickSize": {"condition": {"test": "datum.value % 20 === 0", "value": -7}, "value": -4}, "labelPadding": 6, "labelFontSize": 23, "title": null}},
  "color": {"field": "el", "type": "nominal", "legend": null}
 }},
{"data": {"name": "conc"}, "transform": [{"filter": "datum.el === 'Si'"}], "mark": {"type": "point", "shape": "circle", "filled": true, "size": 50, "opacity": 1},
 "encoding": {"x": {"field": "t", "type": "quantitative", "axis": null}, "y": {"field": "c", "type": "quantitative", "axis": null}, "color": {"field": "el", "type": "nominal", "legend": null}}},
{"data": {"name": "conc"}, "transform": [{"filter": "datum.el === 'N'"}], "mark": {"type": "point", "shape": "triangle-up", "filled": true, "size": 50, "opacity": 1},
 "encoding": {"x": {"field": "t", "type": "quantitative", "axis": null}, "y": {"field": "c", "type": "quantitative", "axis": null}, "color": {"field": "el", "type": "nominal", "legend": null}}},
{"data": {"name": "conc"}, "transform": [{"filter": "datum.el === 'O'"}], "mark": {"type": "point", "shape": "triangle-down", "filled": true, "size": 50, "opacity": 1},
 "encoding": {"x": {"field": "t", "type": "quantitative", "axis": null}, "y": {"field": "c", "type": "quantitative", "axis": null}, "color": {"field": "el", "type": "nominal", "legend": null}}},
{"data": {"values": [{}]}, "mark": {"type": "rect", "color": "#008080", "stroke": "#404040", "strokeWidth": 1},
 "encoding": {"x": {"datum": 10.58, "type": "quantitative", "axis": null}, "x2": {"datum": 14.46}, "y": {"datum": 16.4, "type": "quantitative", "axis": null}, "y2": {"datum": 29.9}}},
{"data": {"values": [{}]}, "mark": {"type": "rect", "color": "#c0c0c0", "stroke": "#404040", "strokeWidth": 1},
 "encoding": {"x": {"datum": 10.58, "type": "quantitative", "axis": null}, "x2": {"datum": 14.46}, "y": {"datum": 6.7, "type": "quantitative", "axis": null}, "y2": {"datum": 16.4}}},
{"data": {"values": [{}]}, "mark": {"type": "text", "text": "HfN", "color": "#ffffff", "fontSize": 19, "align": "center", "baseline": "middle"},
 "encoding": {"x": {"datum": 12.52, "type": "quantitative", "axis": null}, "y": {"datum": 23.4, "type": "quantitative", "axis": null}}},
{"data": {"values": [{}]}, "mark": {"type": "text", "text": "p-Si(100)", "fontSize": 19, "align": "center", "baseline": "middle"},
 "encoding": {"x": {"datum": 12.52, "type": "quantitative", "axis": null}, "y": {"datum": 11.8, "type": "quantitative", "axis": null}}},
{"data": {"values": [{}]}, "mark": {"type": "text", "text": "(a)", "fontSize": 24, "align": "left", "baseline": "middle"},
 "encoding": {"x": {"datum": 0.4, "type": "quantitative", "axis": null}, "y": {"datum": 90.3, "type": "quantitative", "axis": null}}},
{"data": {"values": [{}]}, "mark": {"type": "text", "text": "Interface", "fontSize": 19, "align": "center", "baseline": "middle"},
 "encoding": {"x": {"datum": 6.2, "type": "quantitative", "axis": null}, "y": {"datum": 92.4, "type": "quantitative", "axis": null}}},
{"data": {"values": [{}]}, "mark": {"type": "text", "text": "HfN", "fontSize": 19, "align": "center", "baseline": "middle"},
 "encoding": {"x": {"datum": 3.8, "type": "quantitative", "axis": null}, "y": {"datum": 64.2, "type": "quantitative", "axis": null}}},
{"data": {"values": [{}]}, "mark": {"type": "text", "text": "p-Si(100)", "fontSize": 19, "align": "left", "baseline": "middle"},
 "encoding": {"x": {"datum": 8.35, "type": "quantitative", "axis": null}, "y": {"datum": 64.2, "type": "quantitative", "axis": null}}},
{"data": {"values": [{}]}, "mark": {"type": "rule", "color": "#000", "strokeWidth": 1.5},
 "encoding": {"x": {"datum": 6.6, "type": "quantitative", "axis": null}, "y": {"datum": 86.2, "type": "quantitative", "axis": null}, "y2": {"datum": 48}}},
{"data": {"values": [{}]}, "mark": {"type": "rule", "color": "#000", "strokeWidth": 1.5},
 "encoding": {"x": {"datum": 6.16, "type": "quantitative", "axis": null}, "x2": {"datum": 5.3}, "y": {"datum": 63.5, "type": "quantitative", "axis": null}}},
{"data": {"values": [{}]}, "mark": {"type": "rule", "color": "#000", "strokeWidth": 1.5},
 "encoding": {"x": {"datum": 6.79, "type": "quantitative", "axis": null}, "x2": {"datum": 7.7}, "y": {"datum": 63.5, "type": "quantitative", "axis": null}}},
{"data": {"values": [{}]}, "mark": {"type": "point", "shape": "M-0.45,-1L0.45,-1L0,1Z", "filled": true, "size": 169, "color": "#000", "opacity": 1},
 "encoding": {"x": {"datum": 6.6, "type": "quantitative", "axis": null}, "y": {"datum": 46.4, "type": "quantitative", "axis": null}}},
{"data": {"values": [{}]}, "mark": {"type": "point", "shape": "M1,-0.45L1,0.45L-1,0Z", "filled": true, "size": 169, "color": "#000", "opacity": 1},
 "encoding": {"x": {"datum": 5.22, "type": "quantitative", "axis": null}, "y": {"datum": 63.5, "type": "quantitative", "axis": null}}},
{"data": {"values": [{}]}, "mark": {"type": "point", "shape": "M-1,-0.45L-1,0.45L1,0Z", "filled": true, "size": 169, "color": "#000", "opacity": 1},
 "encoding": {"x": {"datum": 7.83, "type": "quantitative", "axis": null}, "y": {"datum": 63.5, "type": "quantitative", "axis": null}}}
]
},
{
"width": 336, "height": 269,
"resolve": {"axis": {"x": "independent", "y": "independent"}},
"layer": [
{"data": {"name": "hf4f"}, "mark": {"type": "line", "strokeWidth": 2.5},
 "encoding": {
  "x": {"field": "e", "type": "quantitative", "scale": {"domain": [12, 24], "reverse": true, "nice": false, "zero": false},
        "axis": {"orient": "bottom", "values": [12, 13, 14, 15, 16, 17, 18, 19, 20, 21, 22, 23, 24], "labelExpr": "datum.value % 2 === 0 ? datum.label : ''", "tickSize": {"condition": {"test": "datum.value % 2 === 0", "value": -6}, "value": -3.5}, "labelPadding": 9, "title": "Binding Energy [eV]", "titlePadding": 7}},
  "y": {"field": "v", "type": "quantitative", "scale": {"domain": [0, 808], "nice": false, "zero": false},
        "axis": {"orient": "left", "values": [45, 135, 225, 315, 405, 495, 585, 675, 765], "labels": false, "tickSize": -4, "title": "XPS Intensity [arb. units]", "titleFontSize": 22, "titlePadding": 27}},
  "color": {"field": "c", "type": "nominal", "scale": {"domain": [1, 2, 3, 4, 5, 6, 7], "range": ["#000000", "#ff0000", "#0000ff", "#008080", "#ff00ff", "#808000", "#000080"]}, "legend": null}
 }},
{"data": {"name": "hf4f"}, "mark": {"type": "point", "filled": true, "size": 40, "opacity": 1},
 "encoding": {
  "x": {"field": "e", "type": "quantitative", "axis": {"orient": "top", "values": [12, 13, 14, 15, 16, 17, 18, 19, 20, 21, 22, 23, 24], "labels": false, "tickSize": {"condition": {"test": "datum.value % 2 === 0", "value": -6}, "value": -3.5}, "title": null}},
  "y": {"field": "v", "type": "quantitative", "axis": {"orient": "right", "values": [45, 135, 225, 315, 405, 495, 585, 675, 765], "labels": false, "tickSize": -4, "title": "Cycles", "titleAngle": 90, "titlePadding": 15}},
  "color": {"field": "c", "type": "nominal", "legend": null},
  "shape": {"field": "c", "type": "nominal", "scale": {"domain": [1, 2, 3, 4, 5, 6, 7], "range": ["square", "circle", "triangle-up", "triangle-down", "triangle-left", "triangle-right", "diamond"]}, "legend": null}
 }},
{"data": {"values": [{}]}, "mark": {"type": "rule", "color": "#000", "strokeWidth": 2, "strokeDash": [6, 3]},
 "encoding": {"x": {"datum": 16.73, "type": "quantitative", "axis": null}, "y": {"datum": 630, "type": "quantitative", "axis": null}, "y2": {"datum": 370}}},
{"data": {"values": [{}]}, "mark": {"type": "rule", "color": "#000", "strokeWidth": 1.5},
 "encoding": {"x": {"datum": 11.68, "type": "quantitative", "axis": null}, "y": {"datum": 808, "type": "quantitative", "axis": null}, "y2": {"datum": 25}}},
{"data": {"values": [{}]}, "mark": {"type": "point", "shape": "M-0.4,-1L0.4,-1L0,1Z", "filled": true, "size": 196, "color": "#000", "opacity": 1},
 "encoding": {"x": {"datum": 11.68, "type": "quantitative", "axis": null}, "y": {"datum": 15, "type": "quantitative", "axis": null}}},
{"data": {"values": [{}]}, "mark": {"type": "text", "text": "(b)", "fontSize": 24, "align": "left", "baseline": "middle"},
 "encoding": {"x": {"datum": 23.85, "type": "quantitative", "axis": null}, "y": {"datum": 725, "type": "quantitative", "axis": null}}},
{"data": {"values": [{}]}, "mark": {"type": "text", "text": "Hf 4f", "fontSize": 19, "align": "right", "baseline": "middle"},
 "encoding": {"x": {"datum": 12.35, "type": "quantitative", "axis": null}, "y": {"datum": 745, "type": "quantitative", "axis": null}}},
{"data": {"values": [{}]}, "mark": {"type": "text", "text": "Surface", "fontSize": 19, "align": "left", "baseline": "middle"},
 "encoding": {"x": {"datum": 23.7, "type": "quantitative", "axis": null}, "y": {"datum": 465, "type": "quantitative", "axis": null}}},
{"data": {"values": [{}]}, "mark": {"type": "text", "text": "Interface", "fontSize": 19, "align": "left", "baseline": "middle"},
 "encoding": {"x": {"datum": 23.55, "type": "quantitative", "axis": null}, "y": {"datum": 62, "type": "quantitative", "axis": null}}},
{"data": {"values": [{}]}, "mark": {"type": "text", "text": "Hf-N", "fontSize": 19, "align": "left", "baseline": "middle"},
 "encoding": {"x": {"datum": 16.58, "type": "quantitative", "axis": null}, "y": {"datum": 415, "type": "quantitative", "axis": null}}}
]
},
{
"width": 336, "height": 269,
"resolve": {"axis": {"x": "independent", "y": "independent"}},
"layer": [
{"data": {"name": "n1s"}, "mark": {"type": "line", "strokeWidth": 2.5},
 "encoding": {
  "x": {"field": "e", "type": "quantitative", "scale": {"domain": [392, 404], "reverse": true, "nice": false, "zero": false},
        "axis": {"orient": "bottom", "values": [392, 393, 394, 395, 396, 397, 398, 399, 400, 401, 402, 403, 404], "labelExpr": "datum.value % 2 === 0 ? datum.label : ''", "tickSize": {"condition": {"test": "datum.value % 2 === 0", "value": -6}, "value": -3.5}, "labelPadding": 9, "title": "Binding Energy [eV]", "titlePadding": 7}},
  "y": {"field": "v", "type": "quantitative", "scale": {"domain": [0, 812], "nice": false, "zero": false},
        "axis": {"orient": "left", "values": [124, 249, 374, 499, 624, 749], "labels": false, "tickSize": -4, "title": "XPS Intensity [arb. units]", "titleFontSize": 22, "titlePadding": 25}},
  "color": {"field": "c", "type": "nominal", "scale": {"domain": [1, 2, 3, 4, 5, 6, 7], "range": ["#000000", "#ff0000", "#0000ff", "#008080", "#ff00ff", "#808000", "#000080"]}, "legend": null}
 }},
{"data": {"name": "n1s"}, "mark": {"type": "point", "filled": true, "size": 40, "opacity": 1},
 "encoding": {
  "x": {"field": "e", "type": "quantitative", "axis": {"orient": "top", "values": [392, 393, 394, 395, 396, 397, 398, 399, 400, 401, 402, 403, 404], "labels": false, "tickSize": {"condition": {"test": "datum.value % 2 === 0", "value": -6}, "value": -3.5}, "title": null}},
  "y": {"field": "v", "type": "quantitative", "axis": {"orient": "right", "values": [124, 249, 374, 499, 624, 749], "labels": false, "tickSize": -4, "title": "Cycles", "titleAngle": 90, "titlePadding": 17}},
  "color": {"field": "c", "type": "nominal", "legend": null},
  "shape": {"field": "c", "type": "nominal", "scale": {"domain": [1, 2, 3, 4, 5, 6, 7], "range": ["square", "circle", "triangle-up", "triangle-down", "triangle-left", "triangle-right", "diamond"]}, "legend": null}
 }},
{"data": {"values": [{}]}, "mark": {"type": "rule", "color": "#000", "strokeWidth": 2, "strokeDash": [9, 3, 2, 3]},
 "encoding": {"x": {"datum": 397.35, "type": "quantitative", "axis": null}, "y": {"datum": 662, "type": "quantitative", "axis": null}, "y2": {"datum": 247}}},
{"data": {"values": [{}]}, "mark": {"type": "rule", "color": "#000", "strokeWidth": 1.5},
 "encoding": {"x": {"datum": 391.7, "type": "quantitative", "axis": null}, "y": {"datum": 812, "type": "quantitative", "axis": null}, "y2": {"datum": 25}}},
{"data": {"values": [{}]}, "mark": {"type": "point", "shape": "M-0.4,-1L0.4,-1L0,1Z", "filled": true, "size": 196, "color": "#000", "opacity": 1},
 "encoding": {"x": {"datum": 391.7, "type": "quantitative", "axis": null}, "y": {"datum": 16, "type": "quantitative", "axis": null}}},
{"data": {"values": [{}]}, "mark": {"type": "text", "text": "(c)", "fontSize": 24, "align": "left", "baseline": "middle"},
 "encoding": {"x": {"datum": 403.77, "type": "quantitative", "axis": null}, "y": {"datum": 722, "type": "quantitative", "axis": null}}},
{"data": {"values": [{}]}, "mark": {"type": "text", "text": "N 1s", "fontSize": 19, "align": "right", "baseline": "middle"},
 "encoding": {"x": {"datum": 392.27, "type": "quantitative", "axis": null}, "y": {"datum": 754, "type": "quantitative", "axis": null}}},
{"data": {"values": [{}]}, "mark": {"type": "text", "text": "Surface", "fontSize": 19, "align": "left", "baseline": "middle"},
 "encoding": {"x": {"datum": 403.56, "type": "quantitative", "axis": null}, "y": {"datum": 614, "type": "quantitative", "axis": null}}},
{"data": {"values": [{}]}, "mark": {"type": "text", "text": "Interface", "fontSize": 19, "align": "left", "baseline": "middle"},
 "encoding": {"x": {"datum": 403.56, "type": "quantitative", "axis": null}, "y": {"datum": 44, "type": "quantitative", "axis": null}}},
{"data": {"values": [{}]}, "mark": {"type": "text", "text": "Hf-N", "fontSize": 19, "align": "left", "baseline": "middle"},
 "encoding": {"x": {"datum": 397.31, "type": "quantitative", "axis": null}, "y": {"datum": 280, "type": "quantitative", "axis": null}}}
]
},
{
"width": 336, "height": 269,
"resolve": {"axis": {"x": "independent", "y": "independent"}},
"layer": [
{"data": {"name": "si2p"}, "mark": {"type": "line", "strokeWidth": 2.5},
 "encoding": {
  "x": {"field": "e", "type": "quantitative", "scale": {"domain": [96, 108], "reverse": true, "nice": false, "zero": false},
        "axis": {"orient": "bottom", "values": [96, 97, 98, 99, 100, 101, 102, 103, 104, 105, 106, 107, 108], "labelExpr": "datum.value % 2 === 0 ? datum.label : ''", "tickSize": {"condition": {"test": "datum.value % 2 === 0", "value": -6}, "value": -3.5}, "labelPadding": 9, "title": "Binding Energy [eV]", "titlePadding": 7}},
  "y": {"field": "v", "type": "quantitative", "scale": {"domain": [0, 806], "nice": false, "zero": false},
        "axis": {"orient": "left", "values": [88, 268, 448, 628], "labels": false, "tickSize": -4, "title": "XPS Intensity [arb. units]", "titleFontSize": 22, "titlePadding": 23}},
  "color": {"field": "c", "type": "nominal", "scale": {"domain": [1, 2, 3, 4, 5, 6, 7], "range": ["#000000", "#ff0000", "#0000ff", "#008080", "#ff00ff", "#808000", "#000080"]}, "legend": null}
 }},
{"data": {"name": "si2p"}, "mark": {"type": "point", "filled": true, "size": 40, "opacity": 1},
 "encoding": {
  "x": {"field": "e", "type": "quantitative", "axis": {"orient": "top", "values": [96, 97, 98, 99, 100, 101, 102, 103, 104, 105, 106, 107, 108], "labels": false, "tickSize": {"condition": {"test": "datum.value % 2 === 0", "value": -6}, "value": -3.5}, "title": null}},
  "y": {"field": "v", "type": "quantitative", "axis": {"orient": "right", "values": [88, 268, 448, 628], "labels": false, "tickSize": -4, "title": "Cycles", "titleAngle": 90, "titlePadding": 15}},
  "color": {"field": "c", "type": "nominal", "legend": null},
  "shape": {"field": "c", "type": "nominal", "scale": {"domain": [1, 2, 3, 4, 5, 6, 7], "range": ["square", "circle", "triangle-up", "triangle-down", "triangle-left", "triangle-right", "diamond"]}, "legend": null}
 }},
{"data": {"values": [{}]}, "mark": {"type": "rule", "color": "#000", "strokeWidth": 2, "strokeDash": [9, 3, 2, 3]},
 "encoding": {"x": {"datum": 99.23, "type": "quantitative", "axis": null}, "y": {"datum": 258, "type": "quantitative", "axis": null}, "y2": {"datum": 0}}},
{"data": {"values": [{}]}, "mark": {"type": "rule", "color": "#000", "strokeWidth": 1.5},
 "encoding": {"x": {"datum": 95.73, "type": "quantitative", "axis": null}, "y": {"datum": 806, "type": "quantitative", "axis": null}, "y2": {"datum": 25}}},
{"data": {"values": [{}]}, "mark": {"type": "point", "shape": "M-0.4,-1L0.4,-1L0,1Z", "filled": true, "size": 196, "color": "#000", "opacity": 1},
 "encoding": {"x": {"datum": 95.73, "type": "quantitative", "axis": null}, "y": {"datum": 16, "type": "quantitative", "axis": null}}},
{"data": {"values": [{}]}, "mark": {"type": "text", "text": "(d)", "fontSize": 24, "align": "left", "baseline": "middle"},
 "encoding": {"x": {"datum": 107.8, "type": "quantitative", "axis": null}, "y": {"datum": 718, "type": "quantitative", "axis": null}}},
{"data": {"values": [{}]}, "mark": {"type": "text", "text": "Si 2p", "fontSize": 19, "align": "right", "baseline": "middle"},
 "encoding": {"x": {"datum": 96.36, "type": "quantitative", "axis": null}, "y": {"datum": 736, "type": "quantitative", "axis": null}}},
{"data": {"values": [{}]}, "mark": {"type": "text", "text": "Surface", "fontSize": 19, "align": "left", "baseline": "middle"},
 "encoding": {"x": {"datum": 107.62, "type": "quantitative", "axis": null}, "y": {"datum": 510, "type": "quantitative", "axis": null}}},
{"data": {"values": [{}]}, "mark": {"type": "text", "text": "Interface", "fontSize": 19, "align": "left", "baseline": "middle"},
 "encoding": {"x": {"datum": 107.58, "type": "quantitative", "axis": null}, "y": {"datum": 70, "type": "quantitative", "axis": null}}},
{"data": {"values": [{}]}, "mark": {"type": "text", "text": "Si-Si", "fontSize": 19, "align": "right", "baseline": "middle"},
 "encoding": {"x": {"datum": 99.43, "type": "quantitative", "axis": null}, "y": {"datum": 63, "type": "quantitative", "axis": null}}}
]
}
],
"config": {
 "font": "Liberation Serif",
 "view": {"stroke": "#000000", "strokeWidth": 1.6},
 "axis": {"grid": false, "domain": false, "labelFlush": false, "labelOverlap": false, "labelFont": "Liberation Serif", "labelFontWeight": "bold", "labelFontSize": 24, "labelColor": "#000000", "titleFont": "Liberation Serif", "titleFontWeight": "bold", "titleFontSize": 22, "titleColor": "#000000", "tickColor": "#000000", "tickWidth": 1.5},
 "text": {"font": "Liberation Serif", "fontWeight": "bold", "color": "#000000"}
}
}
